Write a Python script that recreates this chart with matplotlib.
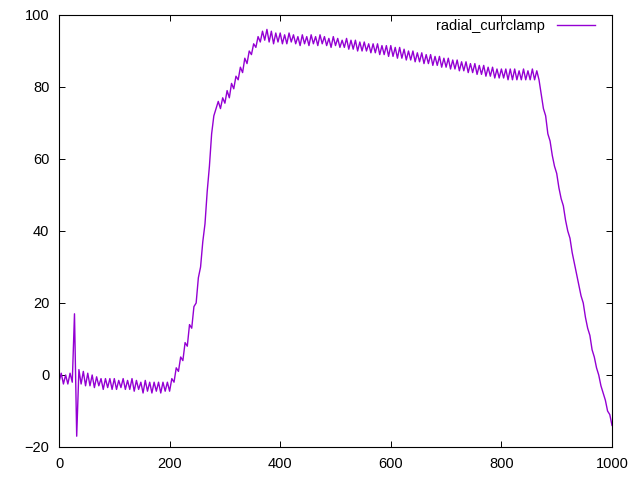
import numpy as np
import matplotlib
matplotlib.use("Agg")
import matplotlib.pyplot as plt

label = "radial_currclamp"
step = 4
y_vals = [
    # 0..24
    -2, 0.5, -2.5, 0, -2.5, 0.5, -2,
    # 28, 32 spike
    17, -17,
    # 36..196
    1.5, -2.5, 1, -3, 0.5, -3, 0, -3.5, -0.5, -3,
    -1, -4, -1, -3.5, -1, -4, -1, -4, -1.5, -3.5,
    -1, -4, -1.5, -4, -1, -4.5, -1.5, -4, -2, -5,
    -1.5, -4.5, -2, -5, -2, -4.5, -2, -5, -2, -4.5,
    -2,
    # 200..
    -4.5, -1, -2, 2, 1, 5, 4, 9, 8, 14,
    13, 19, 20, 27, 30, 37, 42, 51, 58, 67,
    72, 74, 76, 74, 77, 75.5, 79, 77, 81, 79.5,
    83, 82, 85.5, 84, 88, 86.5, 90, 89, 92, 91,
    94, 92.5, 95.5, 93, 96, 92.5, 95.5, 92, 95, 92.5,
    # 400..
    95, 92, 94.5, 92, 95, 92.5, 94.5, 92, 94, 91.5,
    94.5, 92, 94, 91.5, 94.5, 92, 94, 91.5, 94.5, 92,
    94, 91.5, 93.5, 91, 94, 91.5, 93.5, 91, 93, 91,
    93.5, 90.5, 93, 90.5, 93, 90, 92.5, 90, 92.5, 90,
    92, 89.5, 92, 89.5, 92, 89, 91.5, 89, 91.5, 88.5,
    # 600..
    91.5, 88.5, 91, 88, 91, 88, 90.5, 87.5, 90, 87.5,
    90, 87, 89.5, 87, 89.5, 86.5, 89, 86.5, 89, 86,
    88.5, 86, 88.5, 85.5, 88, 85.5, 88, 85, 87.5, 85,
    87.5, 84.5, 87, 84.5, 87, 84, 86.5, 84, 86.5, 83.5,
    86, 83.5, 86, 83, 85.5, 83, 85.5, 82.5, 85, 82.5,
    # 800..
    85, 82.5, 85, 82, 85, 82, 85, 82, 84.5, 82,
    85, 82, 84.5, 82, 85, 82, 84.5, 82, 78, 74,
    72, 67, 65, 61, 58, 56, 52, 49, 47, 43,
    40, 38, 34, 31, 28, 25, 22, 20, 16, 13,
    11, 7, 5, 2, 0, -3, -5, -7, -10, -11,
    # 1000
    -14,
]
x_vals = np.arange(len(y_vals)) * step

x_ticks = [0, 200, 400, 600, 800, 1000]
y_ticks = [-20, 0, 20, 40, 60, 80, 100]

plt.rcParams['font.family'] = ['Liberation Sans', 'DejaVu Sans']
fig = plt.figure(figsize=(6.4, 4.8), dpi=100)
ax = fig.add_axes([59/640, 1 - 447/480, (612 - 59)/640, (447 - 15)/480])
ax.plot(x_vals, y_vals, color='#9400D3', lw=1.0, label=label)
ax.set_xlim(0, 1000)
ax.set_ylim(-20, 100)
ax.set_xticks(x_ticks)
ax.set_yticks(y_ticks)
ax.tick_params(direction='in', length=4, width=0.7, top=True, right=True,
               labelsize=10.5, pad=7, colors='black')
for s in ax.spines.values():
    s.set_linewidth(0.8)
leg = ax.legend(loc='upper right', frameon=False, markerfirst=False,
                fontsize=10.5, handlelength=2.6, borderaxespad=0, borderpad=0,
                handletextpad=0.8, bbox_to_anchor=(0.969, 0.99))
fig.savefig('out.png', dpi=100)
